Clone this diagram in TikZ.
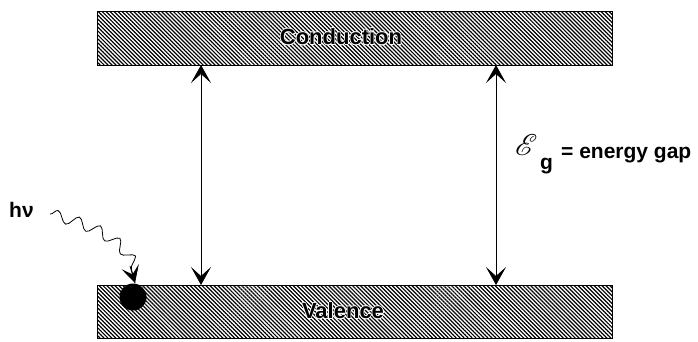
\documentclass[tikz,border=0pt]{standalone}
\usepackage{fontspec}
\setmainfont{Liberation Sans}
\usepackage{mathrsfs}
\usepackage{graphicx}
\usepackage{contour}
\contourlength{0.6pt}
\usetikzlibrary{patterns.meta,arrows.meta,decorations.pathmorphing}
\begin{document}
\begin{tikzpicture}[x=1pt,y=-1pt,
  band/.style={draw=black, line width=0.8pt,
    pattern={Lines[angle=-45,distance=2.8pt,line width=1.2pt]}, pattern color=black},
  bandlabel/.style={font=\fontsize{22}{22}\selectfont\bfseries, text=black},
  gaparrow/.style={line width=0.8pt, {Stealth[length=18pt,width=20pt,inset=9pt]}-{Stealth[length=18pt,width=20pt,inset=9pt]}},
  lbl/.style={font=\fontsize{21}{21}\selectfont\bfseries, inner sep=0pt}
]
\useasboundingbox (0,0) rectangle (698,341);
% bands
\path[band] (97,11) rectangle (612,65);
\path[band] (97,285) rectangle (612,338);
\node[bandlabel] (cond) at (341,37) {\contour{white}{Conduction}};
\node[bandlabel] (val) at (343,311) {\contour{white}{Valence}};
% named band edges
\coordinate (cl) at (201,65);
\coordinate (vl) at (201,285);
\coordinate (cr) at (496,65);
\coordinate (vr) at (496,285);
\draw[gaparrow] (cl) -- (vl);
\draw[gaparrow] (cr) -- (vr);
% energy gap label
\node[anchor=base west, inner sep=0pt] (eg) at (515,155) {\scalebox{3}{$\mathscr{E}$}};
\node[lbl, anchor=north west] (g) at (540,158) {g};
\node[lbl, anchor=base west] (gap) at (561,158) {= energy gap};
% photon
\node[lbl, anchor=base west] (hv) at (9,217) {hν};
\fill (133,297) circle (13.5) coordinate (e);
\coordinate (ws) at (50,214);
\coordinate (wt) at (135,283);
\draw[line width=0.8pt, decorate, decoration={snake, amplitude=5.5pt, segment length=22pt, post length=14pt}]
  (ws) .. controls (90,225) and (128,240) .. (wt);
\draw[-{Stealth[length=17pt,width=18pt,inset=8pt]}, line width=0.8pt] (130,266) -- (wt);
\end{tikzpicture}
\end{document}
